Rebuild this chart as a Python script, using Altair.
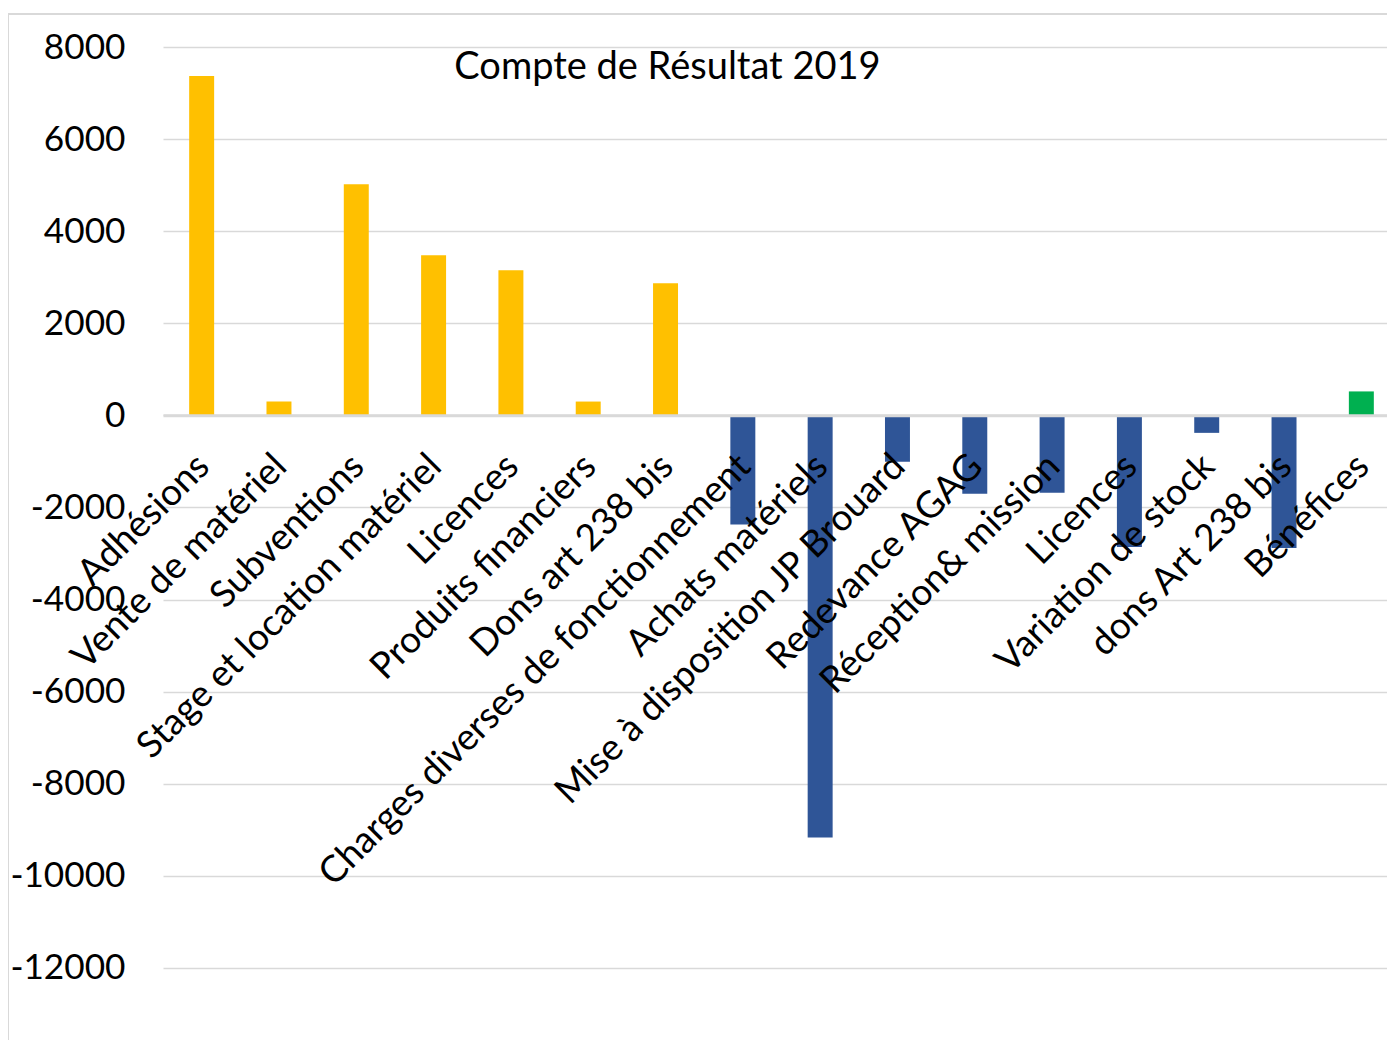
import json
import altair as alt
import pandas as pd

# ---- data ----
categories = [
    "Adhésions", "Vente de matériel", "Subventions", "Stage et location matériel",
    "Licences", "Produits financiers", "Dons art 238 bis",
    "Charges diverses de fonctionnement", "Achats matériels",
    "Mise à disposition JP Brouard", "Redevance AGAG", "Réception& mission",
    "Licences", "Variation de stock", "dons Art 238 bis", "Bénéfices",
]
values = [7370, 300, 5020, 3480, 3150, 300, 2870,
          -2370, -9170, -1010, -1700, -1680, -2860, -380, -2880, 520]
groups = ["Produits"] * 7 + ["Charges"] * 8 + ["Résultat"]
group_names = ["Produits", "Charges", "Résultat"]
group_colors = ["#FFC000", "#2F5597", "#00B050"]
y_ticks = [-12000, -10000, -8000, -6000, -4000, -2000, 0, 2000, 4000, 6000, 8000]
y_domain = [-14000, 8000]
title_text = "Compte de Résultat 2019"

df = pd.DataFrame({"k": list(range(len(categories))), "label": categories,
                   "value": values, "group": groups})

W, H = 1224, 1013          # visible plot area (page is 1379 px wide inside margins)
X_RANGE = 1237             # the category axis runs a little past the page edge
FONT = "Lato"
zero_from_top = H * y_domain[1] / (y_domain[1] - y_domain[0])
x_axis_offset = -(H - zero_from_top)

label_expr = json.dumps(categories, ensure_ascii=False) + "[datum.value]"

bars = alt.Chart(df).mark_bar().encode(
    x=alt.X("k:O",
            scale=alt.Scale(range=[0, X_RANGE], paddingInner=0.677, paddingOuter=0.3385),
            axis=alt.Axis(title=None, orient="bottom", offset=x_axis_offset,
                          domain=True, domainColor="#d9d9d9", domainWidth=3,
                          ticks=False, grid=False, labelAngle=-45,
                          labelAlign="right", labelBaseline="middle",
                          labelFont=FONT, labelFontSize=37, labelColor="#000000",
                          labelPadding=45, labelOffset=2, labelLimit=2000,
                          labelOverlap=False, labelExpr=label_expr, zindex=1)),
    y=alt.Y("value:Q",
            scale=alt.Scale(domain=y_domain, nice=False, zero=False),
            axis=alt.Axis(title=None, values=y_ticks, domain=False, ticks=False,
                          grid=True, gridColor="#d9d9d9", gridWidth=1.5,
                          labelFont=FONT, labelFontSize=35.2, labelColor="#000000",
                          labelPadding=38, labelExpr="datum.value + ''")),
    color=alt.Color("group:N", scale=alt.Scale(domain=group_names, range=group_colors),
                    legend=None),
)

one = pd.DataFrame({"a": [0]})
border = alt.Chart(one).mark_rect(fill=None, stroke="#d9d9d9", strokeWidth=2).encode(
    x=alt.value(-155), x2=alt.value(1400), y=alt.value(-33), y2=alt.value(1200)
)
title = alt.Chart(one).mark_text(font=FONT, fontSize=38, align="center",
                                 baseline="alphabetic", color="#000000").encode(
    x=alt.value(504.5), y=alt.value(32), text=alt.value(title_text)
)

chart = alt.layer(border, bars, title).properties(
    width=W, height=H,
    autosize=alt.AutoSizeParams(type="none"),
    padding={"left": 155, "top": 39, "right": 0, "bottom": 0},
    background="white",
).configure_view(stroke=None)

chart.save("out.html", embed_options={"renderer": "svg", "actions": False})
